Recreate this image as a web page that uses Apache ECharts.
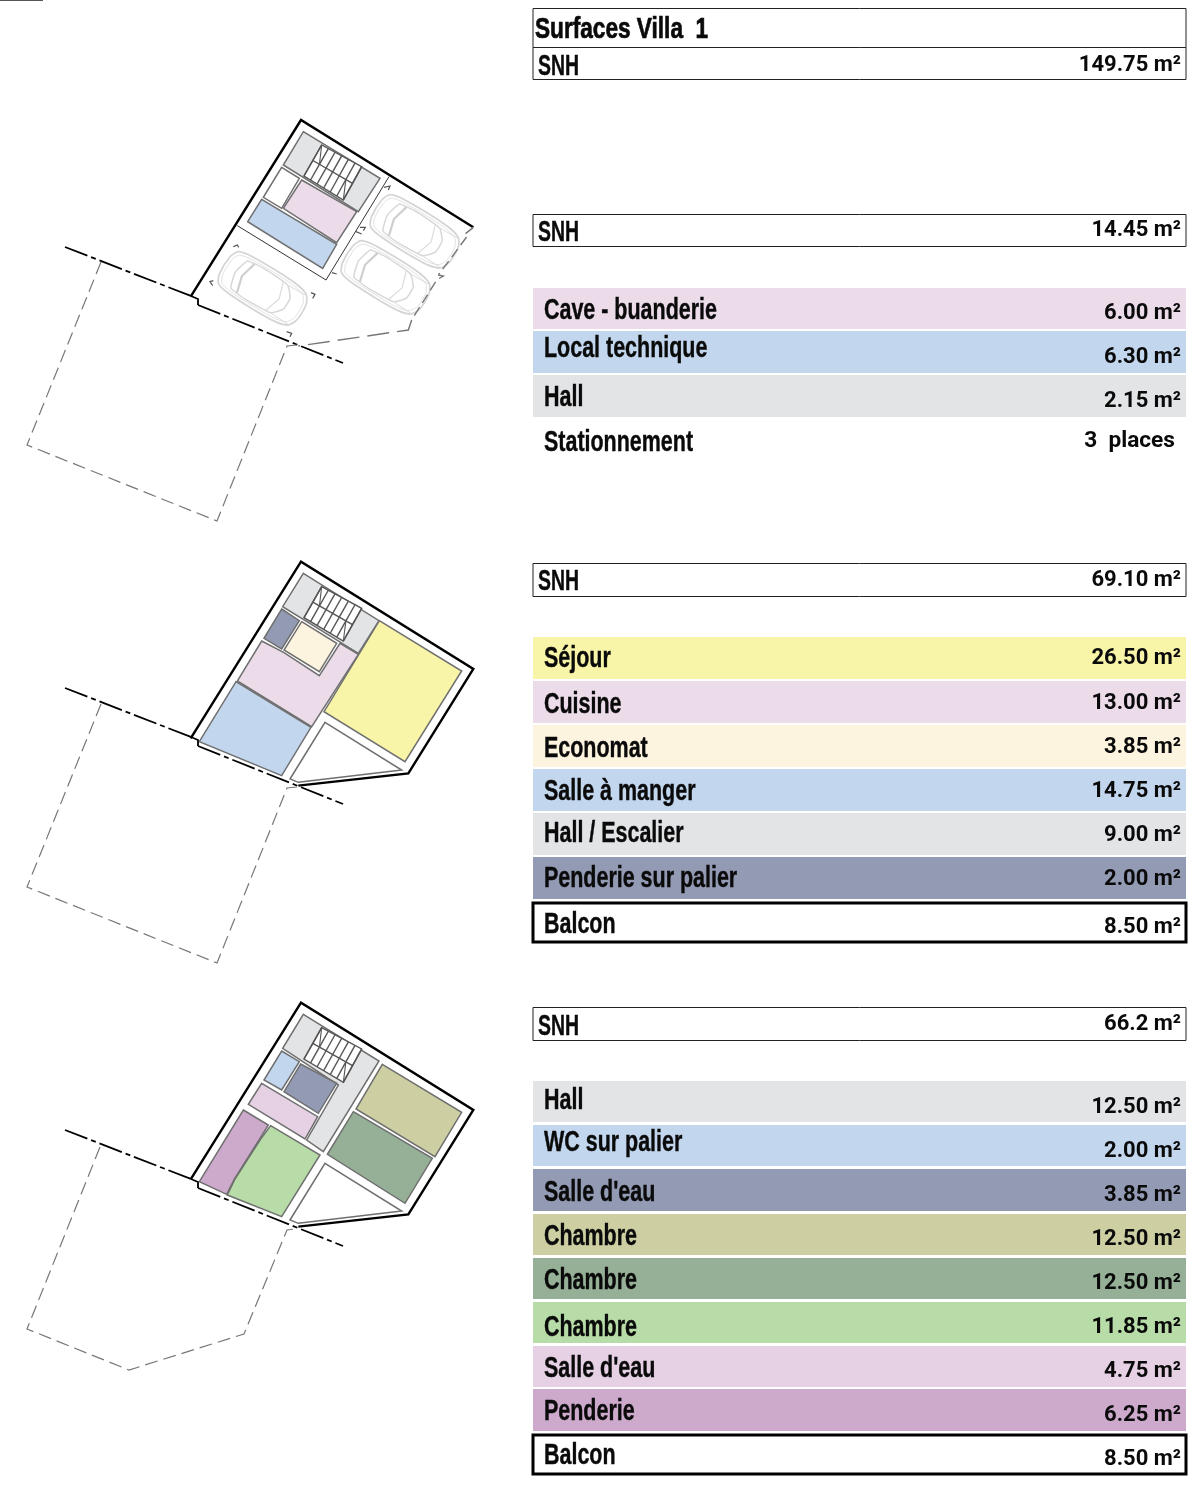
<!DOCTYPE html>
<html><head><meta charset="utf-8">
<style>html,body{margin:0;padding:0;background:#fff}#c{width:1200px;height:1494px}</style>
<script src="https://cdn.jsdelivr.net/npm/echarts@6/dist/echarts.min.js"></script>
</head><body><div id="c"></div>
<script>
// ---- table data ----
const titleText = 'Surfaces Villa  1';
const snhLabel = 'SNH';
const snhValues = ['149.75 m²', '14.45 m²', '69.10 m²', '66.2 m²'];
const level0Rooms = ['Cave - buanderie', 'Local technique', 'Hall'];
const level0Areas = [6.00, 6.30, 2.15];
const parkingLabel = 'Stationnement';
const parkingValue = '3  places';
const level1Rooms = ['Séjour', 'Cuisine', 'Economat', 'Salle à manger', 'Hall / Escalier', 'Penderie sur palier', 'Balcon'];
const level1Areas = [26.50, 13.00, 3.85, 14.75, 9.00, 2.00, 8.50];
const level2Rooms = ['Hall', 'WC sur palier', "Salle d'eau", 'Chambre', 'Chambre', 'Chambre', "Salle d'eau", 'Penderie', 'Balcon'];
const level2Areas = [12.50, 2.00, 3.85, 12.50, 12.50, 11.85, 4.75, 6.25, 8.50];

// ---- table layout (pixel-like data space) ----
const C = {pink:'#ecdcea',blue:'#c2d6ee',gray:'#e2e4e6',yellow:'#f8f4a8',cream:'#fdf4df',slate:'#939ab4',
  khaki:'#cdcfa3',dgreen:'#95b096',lgreen:'#b8dca8',pink2:'#e5d0e4',purple:'#cda9cb'};
const X0 = 533, X1 = 1186, LBL = 544, VAL = 1181;
const level0Layout = [[288,329,309,311,C.pink],[331,373,347,355,C.blue],[375,417,396,399,C.gray]];
const level1Layout = [[637,679,657,656,C.yellow],[681,723,703,701,C.pink],[725,767,747,745,C.cream],[769,811,790,789,C.blue],
  [813,855,832,833,C.gray],[857,899,877,877,C.slate]];
const level2Layout = [[1081,1122,1099,1105,C.gray],[1125,1166,1141,1149,C.blue],[1169,1211,1191,1193,C.slate],[1214,1255,1235,1237,C.khaki],
  [1258,1299,1279,1281,C.dgreen],[1302,1343,1326,1325,C.lgreen],[1346,1387,1367,1369,C.pink2],[1389,1431,1410,1413,C.purple]];

const marks = [];
const LF = 'bold 29px "Liberation Sans"', VF = 'bold 22px "Roboto"';
function rect(y0,y1,fill,stroke,lw){marks.push({k:'rect',x0:X0,x1:X1,y0,y1,fill,stroke,lw});}
function text(s,x,y,font,align,sx,bold){marks.push({k:'text',s,x,y,font,align,sx,bold});}
function label(s,y,x,sx){text(s,x||LBL,y+2,LF,'left',sx||0.74,0.4);}
function value(s,y){text(s,VAL,y+2,VF,'right',1.0,0);}
const fmt = v => v.toFixed(2)+' m²';

// header
rect(8.5,47.5,'#fff','#222',1); rect(47.5,79.5,'#fff','#222',1);
text(titleText,535,30,LF,'left',0.78,0.7);
label(snhLabel,65,538,0.67); value(snhValues[0],63);
// SNH boxes
[[214.5,246.5,231,228,1],[563.5,596.5,580,578,2],[1007.5,1040.5,1025,1022,3]].forEach(b=>{
  rect(b[0],b[1],'#fff','#222',1); label(snhLabel,b[2],538,0.67); value(snhValues[b[4]],b[3]);
});
function rows(names,areas,layout){
  layout.forEach(l=>rect(l[0],l[1],l[4]));
  layout.forEach((l,i)=>{label(names[i],l[2]); value(fmt(areas[i]),l[3]);});
}
rows(level0Rooms,level0Areas,level0Layout);
label(parkingLabel,441); text(parkingValue,1175,441,VF,'right',1.03,0);
rows(level1Rooms,level1Areas,level1Layout);
rect(903,942,'#fff','#000',3); label(level1Rooms[6],923); value(fmt(level1Areas[6]),925);
rows(level2Rooms,level2Areas,level2Layout);
rect(1435,1474,'#fff','#000',3); label(level2Rooms[8],1454); value(fmt(level2Areas[8]),1457);

// ---- plan geometry, in 3x crop units of each plan ----
const WALL='#6f6f6f', BLK='#000', DASH='#777';
const plan1 = {o:[180,110], rooms:[
  [[370,65],[600,205],[535,305],[310,165],C.gray],
  [[305,172],[358,205],[305,295],[250,262],'#fff'],
  [[365,210],[530,305],[470,398],[310,295],C.pink],
  [[245,268],[470,403],[428,475],[203,335],C.blue]],
  stair:[[425,105],[545,170],[490,270],[372,198]]};
const plan2 = {o:[180,555], rooms:[
  [[370,55],[597,197],[535,295],[308,155],C.gray],
  [[305,162],[358,197],[305,282],[252,250],C.slate],
  [[245,258],[312,293],[418,362],[480,265],[535,298],[395,515],[172,378],C.pink],
  [[365,200],[470,265],[418,350],[312,285],C.cream],
  [[168,380],[393,517],[305,662],[58,560],C.blue],
  [[598,197],[845,348],[675,620],[432,470],C.yellow],
  [[435,502],[665,645],[355,682],[330,672],'#fff']],
  stair:[[425,95],[545,160],[490,258],[372,188]]};
const plan3 = {o:[180,995], rooms:[
  [[370,58],[597,198],[430,470],[380,435],[475,270],[308,160],C.gray],
  [[305,168],[358,200],[305,285],[252,255],C.blue],
  [[362,207],[470,265],[415,355],[312,290],C.slate],
  [[245,265],[413,365],[375,432],[205,328],C.pink2],
  [[190,345],[265,390],[240,430],[163,552],[140,598],[58,560],C.purple],
  [[272,392],[420,480],[305,665],[142,600],[165,552],[242,432],C.lgreen],
  [[607,208],[845,352],[765,485],[528,342],C.khaki],
  [[520,350],[757,490],[675,625],[442,478],C.dgreen],
  [[435,505],[665,648],[355,685],[330,675],'#fff']],
  stair:[[425,98],[545,162],[490,262],[372,192]]};

const P=(o,pts)=>pts.map(p=>[o[0]+p[0]/3,o[1]+p[1]/3]);
function line(pts,stroke,lw,dash){marks.push({k:'line',pts,stroke,lw,dash});}
function poly(pts,fill,stroke,lw,smooth){marks.push({k:'poly',pts,fill,stroke,lw,smooth});}

function drawPlan(pl){
  pl.rooms.forEach(r=>{const pts=r.slice(0,-1);poly(P(pl.o,pts),r[r.length-1],WALL,1.5);});
  const q=P(pl.o,pl.stair);
  const lerp=(a,b,t)=>[a[0]+(b[0]-a[0])*t,a[1]+(b[1]-a[1])*t];
  poly(q,'#fff','#555',1.4);
  const mA=lerp(q[0],q[3],.5), mB=lerp(q[1],q[2],.5);
  line([mA,mB],'#555',1.4);
  const n=6;
  for(let i=0;i<=n;i++){const t=i/n;
    line([lerp(q[0],q[1],t),lerp(mA,mB,t)],'#555',1.4);
    line([lerp(mA,mB,t),lerp(q[3],q[2],t)],'#555',1.4);}
  line([q[0],lerp(mA,mB,1/n)],'#555',1.1);
  line([q[2],lerp(mA,mB,1-1/n)],'#555',1.1);
}
// plan 1: building and outer boundary
line(P(plan1.o,[[172,347],[438,510],[627,200]]),'#333',1);
drawPlan(plan1);
line(P(plan1.o,[[32,560],[363,30],[880,352]]),BLK,2.4);
// plan 1 cars
const carBody=[[-1,-.45],[-.9,-.86],[-.55,-1],[.5,-1],[.88,-.82],[1,-.4],[1,.4],[.88,.82],[.5,1],[-.55,1],[-.9,.86],[-1,.45]];
const carInner=carBody.map(p=>[p[0]*.93,p[1]*.88]);
const carCabin=[[-.62,-.72],[-.2,-.82],[.42,-.74],[.62,-.3],[.62,.3],[.42,.74],[-.2,.82],[-.62,.72],[-.72,0]];
const carCenters=[[263,289],[415,232],[386,278]];
const HL=45,HW=22,ang=Math.PI*31.5/180;
const carP=(c,pts)=>pts.map(p=>{const u=p[0]*HL,v=p[1]*HW;return[c[0]+u*Math.cos(ang)-v*Math.sin(ang),c[1]+u*Math.sin(ang)+v*Math.cos(ang)];});
carCenters.forEach(c=>{
  poly(carP(c,carBody),'#fff','#d4d4d4',1.7,.25);
  poly(carP(c,carInner),'#fff','#e2e2e2',1,.25);
  poly(carP(c,carCabin),'#fff','#d8d8d8',1.5,.12);
  line(carP(c,[[-.45,-.76],[-.55,0],[-.45,.76]]),'#cfcfcf',2.2);
  line(carP(c,[[.3,-.76],[.42,0],[.3,.76]]),'#dcdcdc',1.2);
  line(carP(c,[[.42,.74],[.9,.78]]),'#dcdcdc',1);
  line(carP(c,[[.42,-.74],[.9,-.78]]),'#dcdcdc',1);
});
// parking corner ticks
[[[160,410],[172,405],[176,412]],[[98,527],[90,515],[100,512]],[[393,548],[405,553],[398,565]],[[320,665],[335,670],[330,680]],
 [[612,232],[630,228],[625,240]],[[540,352],[556,352],[550,362]],[[528,365],[545,372]],[[456,488],[470,492]]].forEach(t=>line(P(plan1.o,t),'#555',1.2));
line(P(plan1.o,[[880,352],[855,372],[862,378],[775,495]]),DASH,1.4,[10,5]);
line(P(plan1.o,[[775,495],[790,498],[770,510],[695,630]]),DASH,1.4,[10,5]);
line(P(plan1.o,[[695,630],[685,660],[355,708]]),DASH,1.4,[22,8]);
// plan 2 & 3
drawPlan(plan2); drawPlan(plan3);
[[plan2,0],[plan3,3]].forEach(a=>{const p=a[0],d=a[1];
  line(P(p.o,[[32,550+d],[363,20+d],[880,342+d],[685,655+d],[355,692+d]]),BLK,2.4);
});
// site lines
const siteOffsets=[0,441,883];
siteOffsets.forEach(d=>{
  const S=pts=>pts.map(q=>[q[0],q[1]+d]);
  line(S([[65,247],[191,296]]),BLK,1.8,[24,4,5,4]);
  line(S([[191,296],[198,299],[198,305]]),BLK,1.8);
  line(S([[198,305],[343,363]]),BLK,1.8,[24,4,5,4]);
});
const parcelA=[[101,262],[27,445],[217,521],[287,346],[297,345]];
const parcelC=[[100,1147],[27,1329],[129,1370],[244,1334],[287,1230],[295,1229]];
line(parcelA,DASH,1.2,[13,6]);
line(parcelA.map(q=>[q[0],q[1]+442]),DASH,1.2,[13,6]);
line(parcelC,DASH,1.2,[13,6]);
line([[0,0],[43,0]],'#555',2);

// ---- chart ----
function renderItem(params,api){
  const m=marks[params.dataIndex];
  const c=p=>api.coord(p);
  if(m.k==='rect'){
    const a=c([m.x0,m.y0]),b=c([m.x1,m.y1]);
    return {type:'rect',shape:{x:a[0],y:a[1],width:b[0]-a[0],height:b[1]-a[1]},
      style:{fill:m.fill,stroke:m.stroke||null,lineWidth:m.lw||0}};
  }
  if(m.k==='text'){
    const a=c([m.x,m.y]);
    return {type:'text',x:a[0],y:a[1],scaleX:m.sx,scaleY:1,
      style:{x:0,y:0,text:m.s,font:m.font,fill:'#0a0a0a',stroke:m.bold?'#0a0a0a':null,lineWidth:m.bold||0,align:m.align,verticalAlign:'middle'}};
  }
  if(m.k==='poly'){
    return {type:'polygon',shape:{points:m.pts.map(c),smooth:m.smooth||0},
      style:{fill:m.fill,stroke:m.stroke,lineWidth:m.lw,lineJoin:'miter'}};
  }
  return {type:'polyline',shape:{points:m.pts.map(c)},
    style:{fill:null,stroke:m.stroke,lineWidth:m.lw,lineDash:m.dash||null,lineJoin:'miter'}};
}
const chart=echarts.init(document.getElementById('c'),null,{renderer:'canvas'});
chart.setOption({
  animation:false,
  backgroundColor:'#fff',
  grid:{left:0,right:0,top:0,bottom:0},
  xAxis:{type:'value',min:0,max:1200,show:false},
  yAxis:{type:'value',min:0,max:1494,inverse:true,show:false},
  series:[{type:'custom',coordinateSystem:'cartesian2d',clip:false,silent:true,
    data:marks.map((m,i)=>[0,0,i]),renderItem}]
});
</script></body></html>
